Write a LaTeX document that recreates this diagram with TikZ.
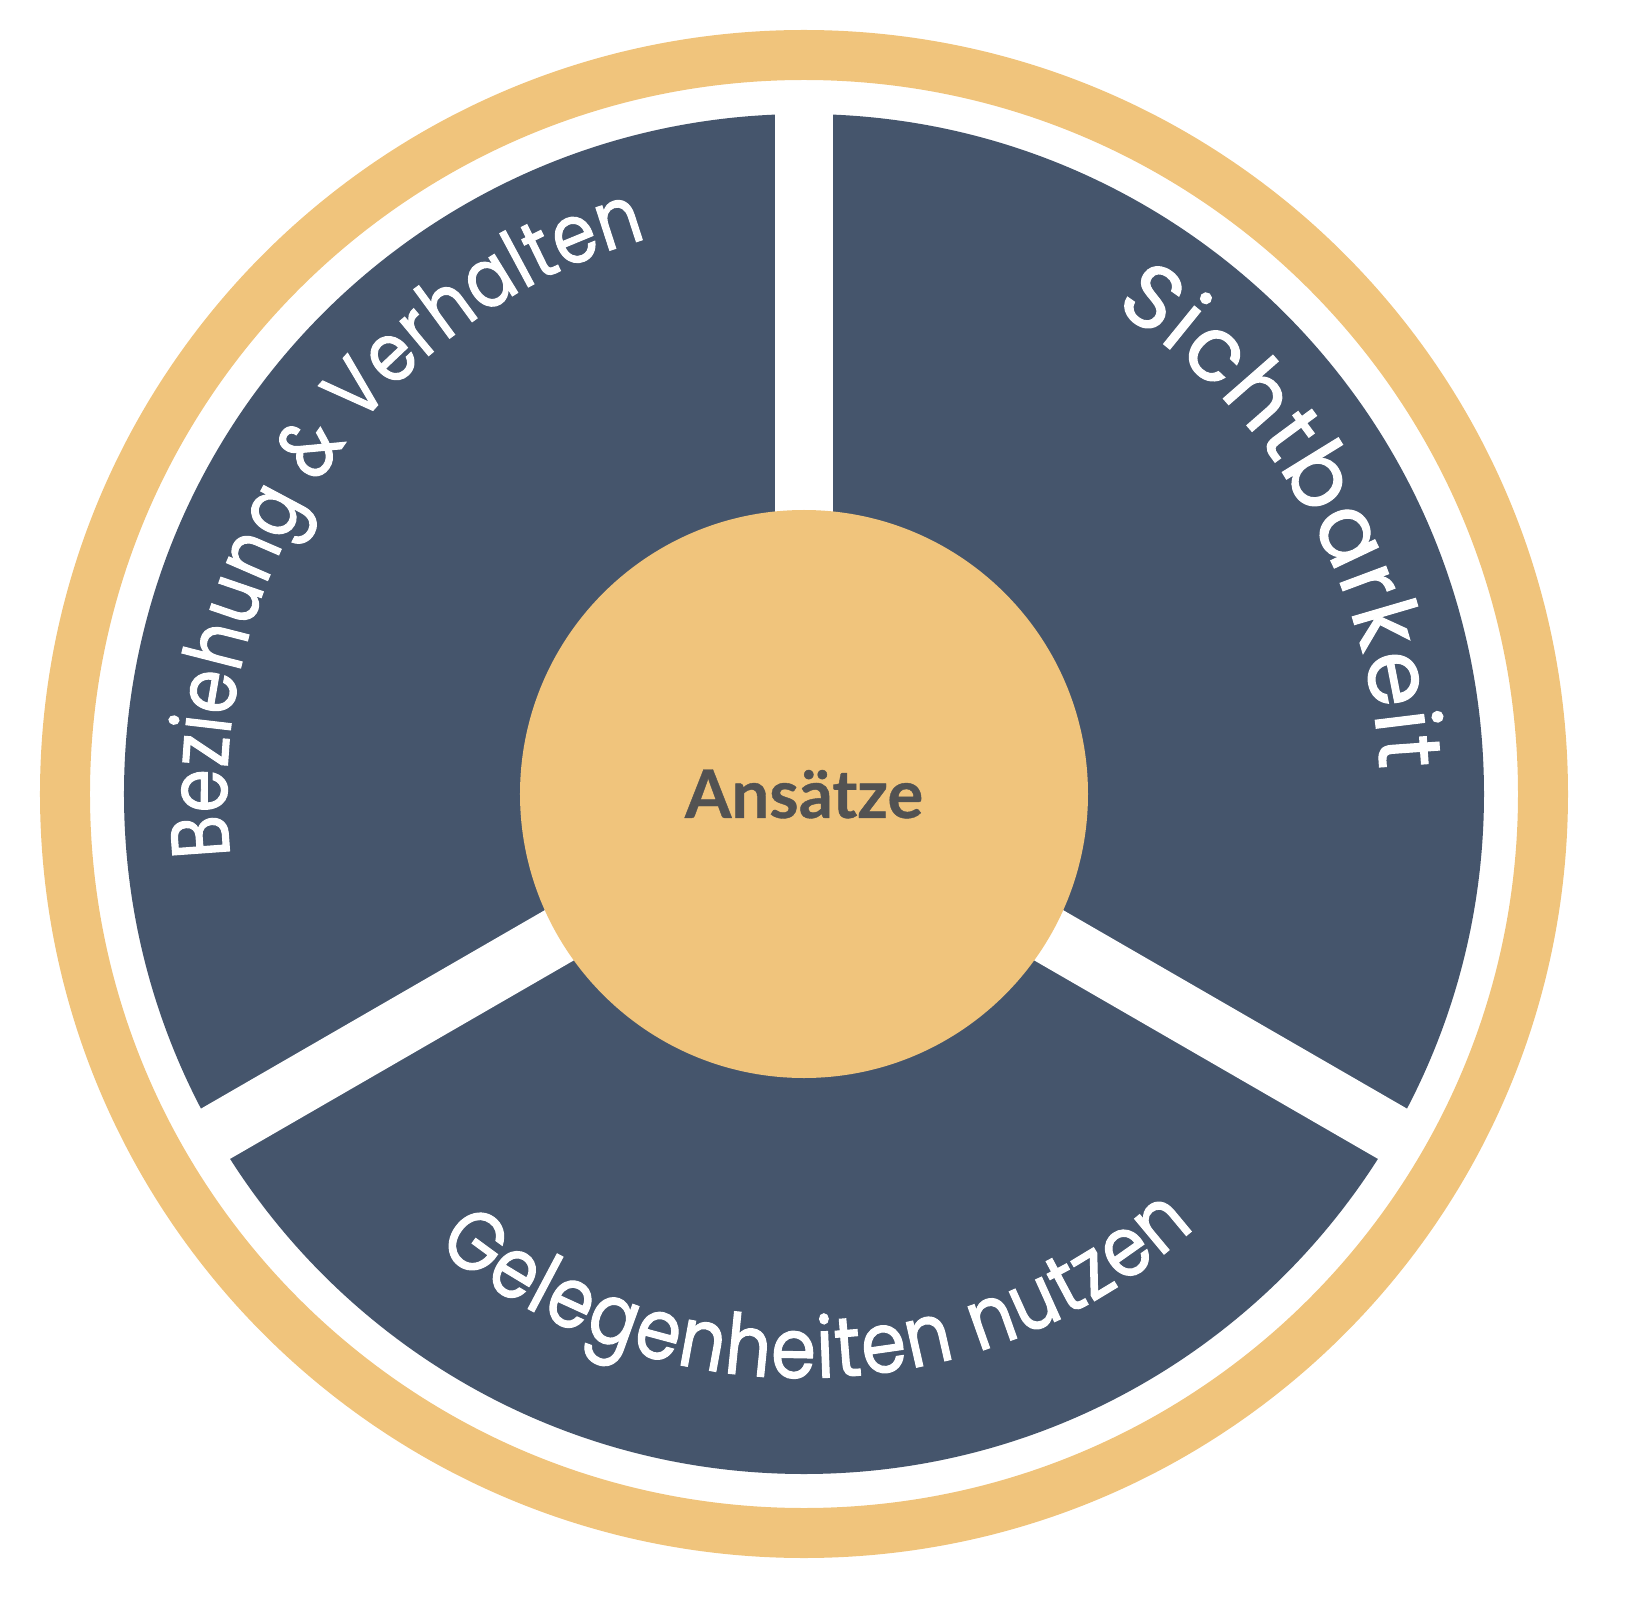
\documentclass[tikz,border=0pt]{standalone}
\usepackage{fontspec}
\setmainfont{Poppins}
\newfontfamily\segfam{Poppins}[FakeBold=1.2]
\newfontfamily\segfamleft{Poppins}[FakeStretch=0.85, FakeBold=1.2]
\newfontfamily\segfambottom{Poppins}[FakeStretch=0.86, FakeBold=1.2]
\newfontfamily\ansfam{Lato}
\usetikzlibrary{decorations.text}
\definecolor{ringgold}{RGB}{240,196,124}
\definecolor{segblue}{RGB}{69,85,108}
\definecolor{textgray}{RGB}{82,82,82}
\newcommand\segfontright{\segfam\fontsize{89}{95}\selectfont}
\newcommand\segfontleft{\segfamleft\fontsize{82}{90}\selectfont}
\newcommand\segfontbottom{\segfambottom\fontsize{84}{90}\selectfont}
\tikzset{
  arclabel/.style 2 args={decorate, decoration={text along path, text align={fit to path}, text color=white, text={|#1|#2}}},
  gapline/.style={white, line width=58pt},
}
\begin{document}
\begin{tikzpicture}[x=1pt,y=1pt]
\useasboundingbox (-804,-828) rectangle (831,794);
% outer ring
\draw[ringgold, line width=50pt] (0,0) circle[radius=739];
% dark disc
\fill[segblue] (0,0) circle[radius=680];
% gaps
\coordinate (c) at (0,0);
\coordinate (g1) at (90:700);
\coordinate (g2) at (210:700);
\coordinate (g3) at (330:700);
\draw[gapline] (c) -- (g1);
\draw[gapline] (c) -- (g2);
\draw[gapline] (c) -- (g3);
% centre disc
\fill[ringgold] (0,0) circle[radius=284];
\node[text=textgray, font=\ansfam\bfseries\addfontfeatures{FakeBold=0.6}\fontsize{67}{70}\selectfont, inner sep=0pt] (ans) at (0,0) {Ansätze};
% curved labels
\path[arclabel={\segfontleft}{Beziehung {\&} Verhalten}] (186.2:577) arc[start angle=186.2, end angle=105.8, radius=577];
\path[arclabel={\segfontright}{Sichtbarkeit}] (57.5:576) arc[start angle=57.5, end angle=2.4, radius=576];
\path[arclabel={\segfontbottom}{Gelegenheiten nutzen}] (231:584) arc[start angle=231, end angle=312, radius=584];
\end{tikzpicture}
\end{document}
